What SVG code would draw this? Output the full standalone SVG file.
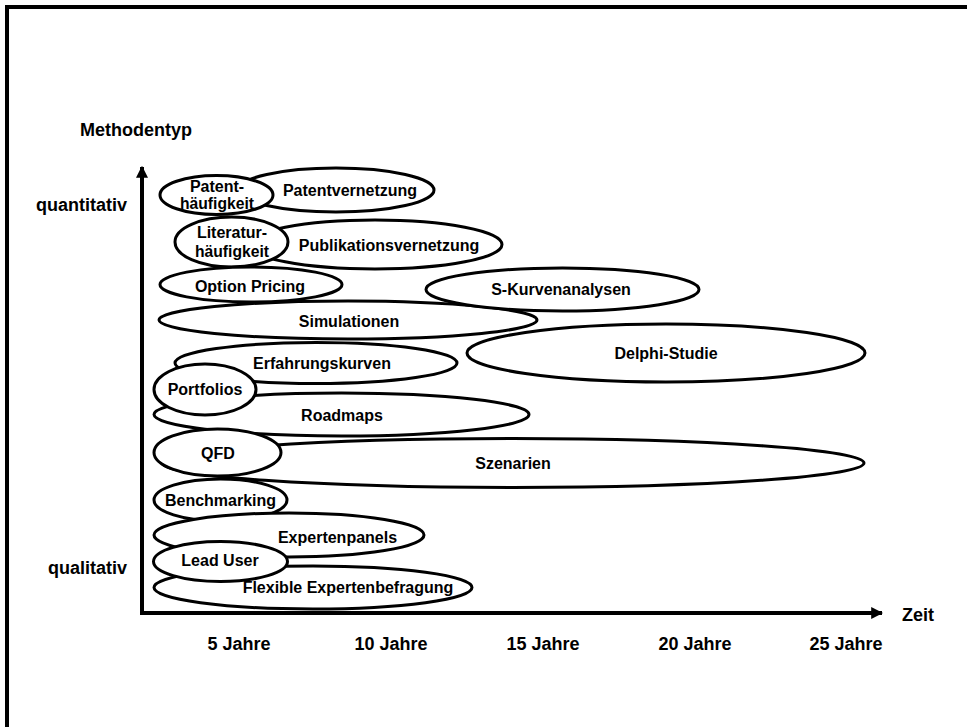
<svg xmlns="http://www.w3.org/2000/svg" width="967" height="727" viewBox="0 0 967 727">
  <defs>
    <style>
      text { font-family: "Liberation Sans", Arial, sans-serif; font-weight: bold; fill: #000; }
      .axis { font-size: 18px; }
      .lbl { font-size: 16px; text-anchor: middle; }
      .node ellipse { fill: #fff; stroke: #000; stroke-width: 3; }
      .ax { stroke: #000; stroke-width: 4; fill: none; }
    </style>
    <marker id="arrow" viewBox="0 0 10 10" refX="9" refY="5" markerWidth="3" markerHeight="3" orient="auto" markerUnits="strokeWidth">
      <path d="M0,0 L10,5 L0,10 Z" fill="#000"/>
    </marker>
  </defs>

  <rect width="967" height="727" fill="#fff"/>
  <!-- outer frame (right and bottom edges run past the canvas) -->
  <rect x="7" y="7" width="990" height="760" fill="none" stroke="#000" stroke-width="4"/>

  <!-- axis titles -->
  <text class="axis" x="80" y="136">Methodentyp</text>
  <text class="axis" x="127" y="211" text-anchor="end">quantitativ</text>
  <text class="axis" x="127" y="574" text-anchor="end">qualitativ</text>
  <text class="axis" x="902" y="621">Zeit</text>
  <g class="axis" text-anchor="middle">
    <text x="239" y="650">5 Jahre</text>
    <text x="391" y="650">10 Jahre</text>
    <text x="543" y="650">15 Jahre</text>
    <text x="695" y="650">20 Jahre</text>
    <text x="846" y="650">25 Jahre</text>
  </g>

  <!-- method ellipses, back to front -->
  <g id="patentvernetzung" class="node">
    <ellipse cx="336" cy="190" rx="98" ry="22"/>
    <text class="lbl" x="350" y="196">Patentvernetzung</text>
  </g>
  <g id="patenthaeufigkeit" class="node">
    <ellipse cx="216.5" cy="195" rx="56.5" ry="19.5"/>
    <text class="lbl" x="217" y="192">Patent-</text>
    <text class="lbl" x="217" y="209" textLength="74" lengthAdjust="spacingAndGlyphs">häufigkeit</text>
  </g>
  <g id="publikationsvernetzung" class="node">
    <ellipse cx="375" cy="244.5" rx="127" ry="24.5"/>
    <text class="lbl" x="389" y="251">Publikationsvernetzung</text>
  </g>
  <g id="literaturhaeufigkeit" class="node">
    <ellipse cx="231.5" cy="242" rx="56.5" ry="25"/>
    <text class="lbl" x="232" y="238">Literatur-</text>
    <text class="lbl" x="232" y="257" textLength="74" lengthAdjust="spacingAndGlyphs">häufigkeit</text>
  </g>
  <g id="option-pricing" class="node">
    <ellipse cx="251" cy="284.5" rx="91" ry="17.5"/>
    <text class="lbl" x="250" y="292">Option Pricing</text>
  </g>
  <g id="simulationen" class="node">
    <ellipse cx="348" cy="320" rx="189" ry="19"/>
    <text class="lbl" x="349" y="327">Simulationen</text>
  </g>
  <g id="s-kurvenanalysen" class="node">
    <ellipse cx="562.5" cy="289.5" rx="136.5" ry="21.5"/>
    <text class="lbl" x="561" y="295">S-Kurvenanalysen</text>
  </g>
  <g id="delphi-studie" class="node">
    <ellipse cx="666" cy="353" rx="199" ry="29"/>
    <text class="lbl" x="666" y="359">Delphi-Studie</text>
  </g>
  <g id="erfahrungskurven" class="node">
    <ellipse cx="316" cy="363" rx="141" ry="20.5"/>
    <text class="lbl" x="322" y="369">Erfahrungskurven</text>
  </g>
  <g id="roadmaps" class="node">
    <ellipse cx="341.5" cy="414.5" rx="187.5" ry="21.5"/>
    <text class="lbl" x="342" y="421">Roadmaps</text>
  </g>
  <g id="portfolios" class="node">
    <ellipse cx="205" cy="389.5" rx="51" ry="25.5"/>
    <text class="lbl" x="205" y="395">Portfolios</text>
  </g>
  <g id="szenarien" class="node">
    <ellipse cx="513" cy="463" rx="351" ry="24.5"/>
    <text class="lbl" x="513" y="469">Szenarien</text>
  </g>
  <g id="qfd" class="node">
    <ellipse cx="217.5" cy="452.5" rx="63.5" ry="23.5"/>
    <text class="lbl" x="218" y="459">QFD</text>
  </g>
  <g id="benchmarking" class="node">
    <ellipse cx="220.5" cy="500" rx="66.5" ry="21"/>
    <text class="lbl" x="220.5" y="506">Benchmarking</text>
  </g>
  <g id="expertenpanels" class="node">
    <ellipse cx="289" cy="535" rx="135" ry="22"/>
    <text class="lbl" x="337.5" y="543">Expertenpanels</text>
  </g>
  <g id="flexible-expertenbefragung" class="node">
    <ellipse cx="313" cy="587.5" rx="159" ry="21.5"/>
    <text class="lbl" x="348" y="593">Flexible Expertenbefragung</text>
  </g>
  <g id="lead-user" class="node">
    <ellipse cx="220.5" cy="561.5" rx="67" ry="20"/>
    <text class="lbl" x="220" y="566">Lead User</text>
  </g>

  <!-- axes -->
  <g id="connectors">
    <path class="ax" d="M142,613 V167" marker-end="url(#arrow)"/>
    <path class="ax" d="M140,613 H882" marker-end="url(#arrow)"/>
  </g>
</svg>
